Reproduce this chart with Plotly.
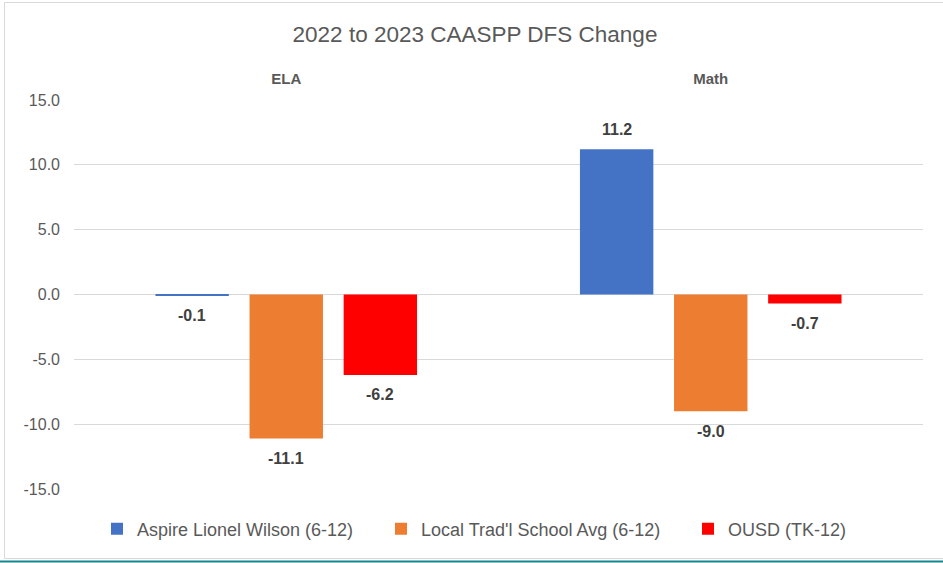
import plotly.graph_objects as go

categories = ["ELA", "Math"]
series_names = ["Aspire Lionel Wilson (6-12)", "Local Trad'l School Avg (6-12)", "OUSD (TK-12)"]
aspire_values = [-0.1, 11.2]
local_values = [-11.1, -9.0]
ousd_values = [-6.2, -0.7]
series_colors = ["#4472C4", "#ED7D31", "#FF0000"]
y_ticks = [-15, -10, -5, 0, 5, 10, 15]
y_tick_labels = [f"{v:.1f}" for v in y_ticks]

W, H = 943, 563
ML, MR, MT, MB = 74, 20, 100, 74
plot_w = W - ML - MR
plot_h = H - MT - MB
BARGAP = 0.335
BARGROUPGAP = 0.22
legend_ids = ["legend", "legend2", "legend3"]
legend_left_px = [97, 381, 688]

def px_x(px):
    return (px - ML) / plot_w

def px_y(py):
    return (H - MB - py) / plot_h

fig = go.Figure()
all_values = [aspire_values, local_values, ousd_values]
for name, vals, col, lid in zip(series_names, all_values, series_colors, legend_ids):
    fig.add_trace(go.Bar(
        x=categories, y=vals, name=name, legend=lid,
        marker=dict(color=col, line=dict(width=0)),
        hoverinfo="x+y+name",
    ))

# data labels
slot_px = plot_w / len(categories) * (1 - BARGAP) / len(series_names)
annotations = []
for i, vals in enumerate(all_values):
    for cat, v in zip(categories, vals):
        annotations.append(dict(
            x=cat, y=v, xref="x", yref="y",
            text=f"{v:.1f}", showarrow=False,
            xshift=(i - (len(series_names) - 1) / 2) * slot_px,
            yshift=20 if v >= 0 else -20,
            font=dict(family="Liberation Sans", size=16, color="#404040", weight="bold"),
        ))

shapes = [
    dict(type="rect", xref="paper", yref="paper",
         x0=px_x(4.5), x1=px_x(950), y0=px_y(558.5), y1=px_y(2.5),
         line=dict(color="#D9D9D9", width=1), fillcolor="rgba(0,0,0,0)", layer="below"),
    dict(type="line", xref="paper", yref="paper",
         x0=px_x(0), x1=px_x(W + 5), y0=px_y(561.5), y1=px_y(561.5),
         line=dict(color="#17868E", width=2)),
]

legend_common = dict(orientation="h", y=px_y(529), xanchor="left", yanchor="middle",
                     font=dict(family="Liberation Sans", size=18, color="#595959"),
                     bgcolor="rgba(0,0,0,0)")

fig.update_layout(
    width=W, height=H,
    margin=dict(l=ML, r=MR, t=MT, b=MB, pad=0),
    paper_bgcolor="white", plot_bgcolor="white",
    barmode="group", bargap=BARGAP, bargroupgap=BARGROUPGAP,
    title=dict(text="2022 to 2023 CAASPP DFS Change", xref="container", yref="container",
               x=475 / W, y=1 - 34 / H, xanchor="center", yanchor="middle",
               font=dict(family="Liberation Sans", size=22.5, color="#595959")),
    font=dict(family="Liberation Sans", color="#595959"),
    showlegend=True,
    annotations=annotations,
    shapes=shapes,
)
for lid, lx in zip(legend_ids, legend_left_px):
    fig.update_layout({lid: dict(x=px_x(lx), **legend_common)})

fig.update_xaxes(side="top", showgrid=False, zeroline=False, showline=False, ticks="",
                 tickfont=dict(family="Liberation Sans", size=15, color="#595959", weight="bold"),
                 ticklabelstandoff=12)
fig.update_yaxes(range=[-15, 15], tickvals=y_ticks, ticktext=y_tick_labels,
                 showgrid=True, gridcolor="#D9D9D9", gridwidth=1,
                 zeroline=True, zerolinecolor="#D9D9D9", zerolinewidth=1,
                 showline=False, ticks="",
                 tickfont=dict(family="Liberation Sans", size=16, color="#595959"),
                 ticklabelstandoff=13)

fig.write_html("out.html", config={"displayModeBar": False},
               post_script="document.body.style.margin='0';document.body.style.padding='0';")
